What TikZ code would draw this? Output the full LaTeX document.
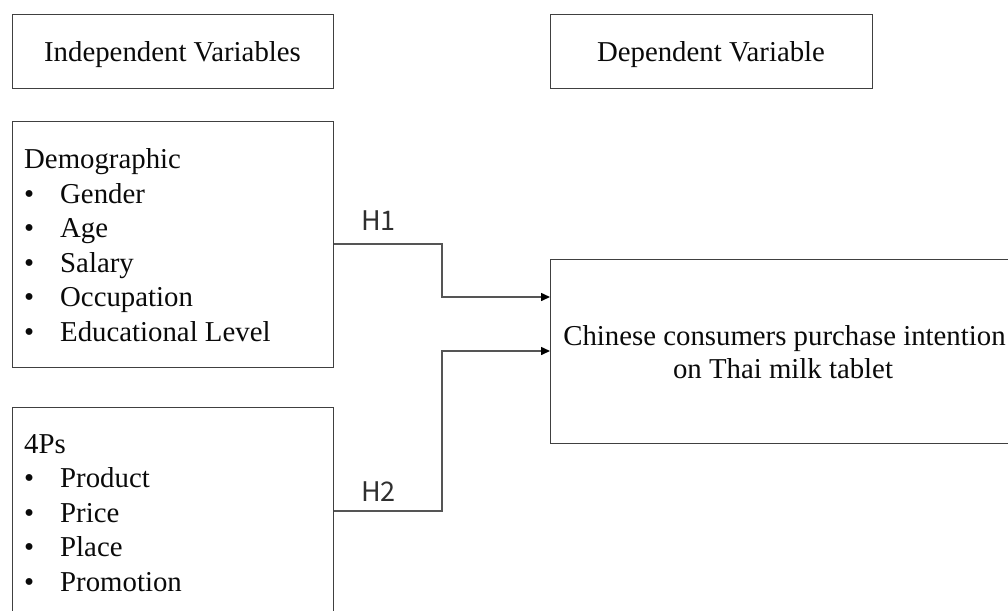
\documentclass[tikz,border=0pt]{standalone}
\usepackage{fontspec}
\setmainfont{Liberation Serif}
\newfontfamily\labelfont{Noto Sans CJK SC}
\usetikzlibrary{arrows.meta}

\definecolor{boxline}{HTML}{404040}
\definecolor{wireline}{HTML}{555555}
\definecolor{ink}{HTML}{0A0A0A}

\tikzset{
  frame/.style={draw=boxline, line width=1.3pt, anchor=north west, inner sep=0pt},
  txt/.style={font=\fontsize{28.8}{34}\selectfont, text=ink, inner sep=0pt},
  item/.style={txt, anchor=base west},
  dot/.style={txt, anchor=base west},
  hyp/.style={font=\labelfont\fontsize{27}{32}\selectfont, text=ink!85, inner sep=0pt, anchor=base west},
  conn/.style={draw=wireline, line width=1.5pt,
    arrows={-{Triangle[length=9pt,width=8pt,color=black]}}},
}

\begin{document}
\begin{tikzpicture}[x=1pt, y=-1pt]
\useasboundingbox (0,0) rectangle (1008,610);

% heading boxes
\node[frame, minimum width=321pt, minimum height=74pt] (indep) at (12,14) {};
\node[txt, anchor=base] (indeptxt) at (172.5,62) {Independent Variables};
\node[frame, minimum width=322pt, minimum height=74pt] (dep) at (550,14) {};
\node[txt, anchor=base] (deptxt) at (711,62) {Dependent Variable};

% demographic block
\node[frame, minimum width=321pt, minimum height=246pt] (demo) at (12,121) {};
\node[item] (demohead) at (24,168) {Demographic};
\foreach \y/\t [count=\i] in {203/Gender, 237.5/Age, 272/Salary, 306.5/Occupation, 341/Educational Level}{
  \node[dot] (db\i) at (24,\y) {\textbullet};
  \node[item] (dt\i) at (60,\y) {\t};
}

% 4Ps block (runs past the lower edge)
\node[frame, minimum width=321pt, minimum height=240pt] (mix) at (12,407) {};
\node[item] (mixhead) at (24,453) {4Ps};
\foreach \y/\t [count=\i] in {487.5/Product, 522/Price, 556.5/Place, 591/Promotion}{
  \node[dot] (mb\i) at (24,\y) {\textbullet};
  \node[item] (mt\i) at (60,\y) {\t};
}

% outcome box (runs past the right edge)
\node[frame, minimum width=470pt, minimum height=184pt] (dv) at (550,259) {};
\node[txt, anchor=base] (dvtxt1) at (784.5,345) {Chinese consumers purchase intention};
\node[txt, anchor=base] (dvtxt2) at (783,378.5) {on Thai milk tablet};

% hypothesis paths
\coordinate (j1) at (442,244);
\coordinate (e1) at (550,297);
\coordinate (j2) at (442,511);
\coordinate (e2) at (550,351);
\draw[conn] (demo.east |- j1) -- (j1) |- (dv.west |- e1);
\draw[conn] (mix.east |- j2) -- (j2) |- (dv.west |- e2);

\node[hyp] (h1) at (361,230) {H1};
\node[hyp] (h2) at (361,501) {H2};
\end{tikzpicture}
\end{document}
